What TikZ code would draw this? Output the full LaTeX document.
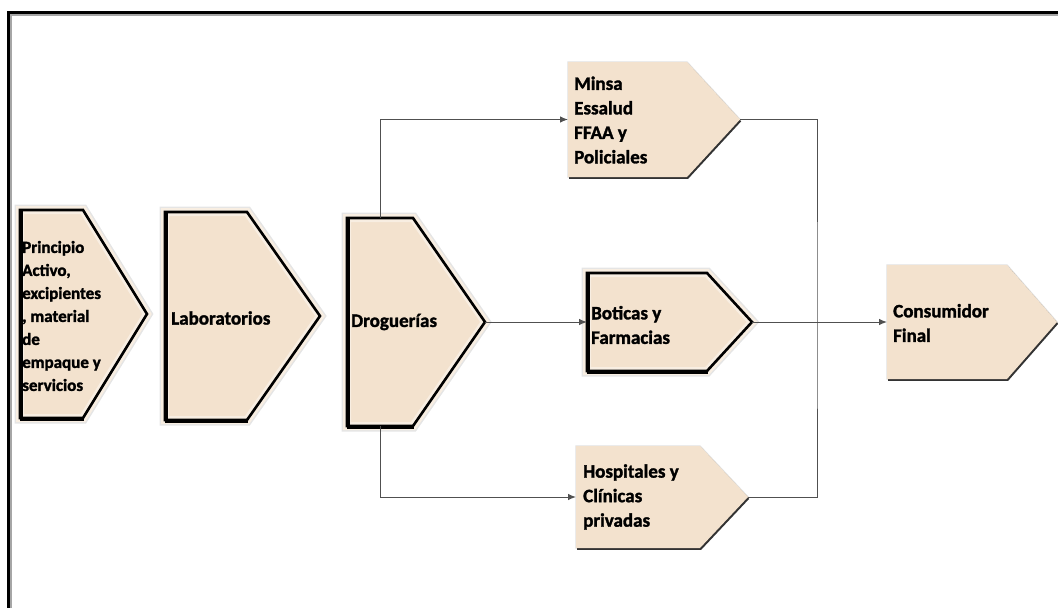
\documentclass[tikz,border=0pt]{standalone}
\usepackage{fontspec}
\setmainfont{Carlito}[BoldFeatures={FakeBold=1.6}]
\usetikzlibrary{arrows.meta}

\definecolor{stagefill}{HTML}{F3E2CE}
\definecolor{stagehalo}{HTML}{F8EEE2}
\definecolor{wire}{HTML}{505050}

% Pentagon-arrow stage: #1 name, #2 left x, #3 top y, #4 x where the point starts,
% #5 x of the tip, #6 bottom y.  Named coordinates: #1-w, #1-e, #1-n, #1-s.
\newcommand\stagecoords[6]{%
  \coordinate (#1-w) at (#2,{(#3+#6)/2});
  \coordinate (#1-e) at (#5,{(#3+#6)/2});
  \coordinate (#1-n) at ({(#2+#4)/2},#3);
  \coordinate (#1-s) at ({(#2+#4)/2},#6);
}
% stage with a heavy black outline
\newcommand\framedstage[6]{%
  \stagecoords{#1}{#2}{#3}{#4}{#5}{#6}
  \draw[black!10, line width=11, line join=miter]
    (#2,#3) -- (#4,#3) -- (#5,{(#3+#6)/2}) -- (#4,#6) -- (#2,#6) -- cycle;
  \draw[stagehalo, line width=8, line join=miter, fill=stagefill]
    (#2,#3) -- (#4,#3) -- (#5,{(#3+#6)/2}) -- (#4,#6) -- (#2,#6) -- cycle;
  \draw[black, line width=2.6, line join=miter]
    (#2,#3) -- (#4,#3) -- (#5,{(#3+#6)/2}) -- (#4,#6) -- (#2,#6) -- cycle;
  \draw[black, line width=4.2] ([xshift=0.8]#2,#3) -- ([xshift=0.8]#2,#6);
  \draw[black, line width=4] (#2,{#6+0.6}) -- ([xshift=0.5]#4,{#6+0.6});
}
% stage with only a soft drop shadow
\newcommand\plainstage[6]{%
  \stagecoords{#1}{#2}{#3}{#4}{#5}{#6}
  \draw[black!12, line width=1.4, line join=miter]
    (#2,#3) -- (#4,#3) -- (#5,{(#3+#6)/2}) -- (#4,#6) -- (#2,#6) -- cycle;
  \fill[black!80]
    ([shift={(1.2,1.8)}]#2,#3) -- ([shift={(1.2,1.8)}]#4,#3) -- ([shift={(1.2,1.8)}]#5,{(#3+#6)/2})
    -- ([shift={(1.2,1.8)}]#4,#6) -- ([shift={(1.2,1.8)}]#2,#6) -- cycle;
  \fill[stagefill]
    (#2,#3) -- (#4,#3) -- (#5,{(#3+#6)/2}) -- (#4,#6) -- (#2,#6) -- cycle;
}

\tikzset{
  x=1pt, y=-1pt,
  label/.style={anchor=west, inner sep=0pt, align=left,
    font=\fontsize{19}{24.5}\selectfont\bfseries},
  flow/.style={draw=wire, line width=1, -{Latex[length=8,width=6.5]}},
  wireline/.style={draw=wire, line width=1},
}

\begin{document}
\begin{tikzpicture}
\useasboundingbox (0,0) rectangle (1058,608);

% outer frame (only top and left edges show)
\draw[black!35, line width=1.5] (10.8,612) -- (10.8,14.8) -- (1062,14.8);
\draw[black, line width=3] (8,612) -- (8,12) -- (1062,12);

% stages
\framedstage{P}{20}{210}{83}{147}{418}
\framedstage{L}{165}{212}{247}{320}{420}
\framedstage{D}{347}{218}{413}{485}{426}
\framedstage{B}{587}{273}{707}{752}{371}
\plainstage{M}{568}{62}{687}{740}{177}
\plainstage{H}{576}{446}{700}{748}{548}
\plainstage{C}{887}{265}{1007}{1057}{379}

% stage texts
\node[label, font=\fontsize{17}{23}\selectfont\bfseries] (P-t) at (22,316)
  {Principio\\Activo,\\excipientes\\, material\\de\\empaque y\\servicios};
\node[label] (L-t) at (171,318) {Laboratorios};
\node[label] (D-t) at (351,322) {Droguerías};
\node[label] (M-t) at (574,120) {Minsa\\Essalud\\FFAA y\\Policiales};
\node[label] (B-t) at (591,325) {Boticas y\\Farmacias};
\node[label] (H-t) at (583,497) {Hospitales y\\Clínicas\\privadas};
\node[label] (C-t) at (893,323) {Consumidor\\Final};

% junction column collecting the institutional channels
\coordinate (bus) at (817,322);

% connectors
\draw[flow] (D-n) |- (M-w);
\draw[flow] (D-s) |- (H-w);
\draw[flow] (D-e) -- (B-w);
\draw[flow] (B-e) -- (C-w);
\draw[wireline] (M-e) -| (bus) |- (H-e);
\end{tikzpicture}
\end{document}
